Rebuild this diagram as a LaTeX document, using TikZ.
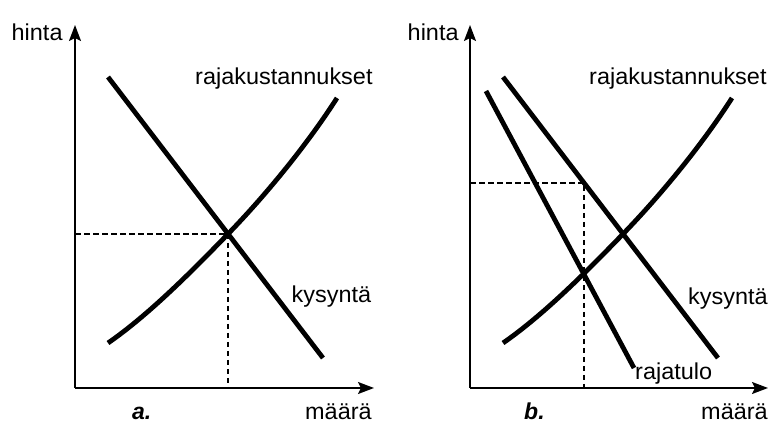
\documentclass[tikz,border=0pt]{standalone}
\usepackage{fontspec}
\setmainfont{Liberation Sans}
\usetikzlibrary{arrows.meta}
\tikzset{
  axisline/.style={line width=1.8pt, -{Stealth[length=16pt,width=12pt,inset=3pt]}},
  curveline/.style={line width=4.8pt},
  guide/.style={line width=1.4pt, dash pattern=on 5.5pt off 3.5pt},
  lbl/.style={inner sep=0pt, anchor=base west, xscale=1.02, font=\fontsize{23}{27}\selectfont},
  panellbl/.style={inner sep=0pt, anchor=base west, font=\fontsize{23}{27}\selectfont\bfseries\itshape}
}
\begin{document}
\begin{tikzpicture}[x=1pt,y=-1pt]
\useasboundingbox (0,0) rectangle (772,430);
\fill[white] (0,0) rectangle (772,430);

% ---------- panel a ----------
\coordinate (aO) at (75,388);
\coordinate (aY) at (75,25);
\coordinate (aX) at (374,388);
\coordinate (aE) at (228,234);
\coordinate (aEx) at (75,234);
\coordinate (aEq) at (228,388);
\coordinate (aD1) at (108,77);
\coordinate (aD2) at (323,358);
\coordinate (aS1) at (108,343);
\coordinate (aS2) at (337,98);

\draw[guide] (aEx) -- (aE) -- (aEq);
\draw[axisline] (aO) -- (aY);
\draw[axisline] (aO) -- (aX);
\draw[curveline] (aD1) -- (aD2);
\draw[curveline] (aS1) .. controls (150,314) and (195,268) .. (aE)
                      .. controls (262,199) and (305,148) .. (aS2);

\node[lbl] (ahinta) at (11.5,41) {hinta};
\node[lbl] (araja) at (195,85) {rajakustannukset};
\node[lbl] (akys) at (291.5,303) {kysyntä};
\node[panellbl] (alab) at (132,420) {a.};
\node[lbl] (amaara) at (305,420) {määrä};

% ---------- panel b ----------
\coordinate (bO) at (470,388);
\coordinate (bY) at (470,25);
\coordinate (bX) at (768,388);
\coordinate (bP) at (584,183);
\coordinate (bPx) at (470,183);
\coordinate (bPq) at (584,388);
\coordinate (bE) at (623,234);
\coordinate (bD1) at (503,77);
\coordinate (bD2) at (718,358);
\coordinate (bS1) at (503,343);
\coordinate (bS2) at (732,98);
\coordinate (bR1) at (486,91);
\coordinate (bR2) at (634,368);

\draw[guide] (bPx) -- (bP) -- (bPq);
\draw[axisline] (bO) -- (bY);
\draw[axisline] (bO) -- (bX);
\draw[curveline] (bD1) -- (bD2);
\draw[curveline] (bR1) -- (bR2);
\draw[curveline] (bS1) .. controls (545,314) and (590,268) .. (bE)
                      .. controls (657,199) and (700,148) .. (bS2);

\node[lbl] (bhinta) at (407.5,41) {hinta};
\node[lbl] (braja) at (589,85) {rajakustannukset};
\node[lbl] (bkys) at (688,305) {kysyntä};
\node[lbl] (brajatulo) at (635,380) {rajatulo};
\node[panellbl] (blab) at (524,420) {b.};
\node[lbl] (bmaara) at (701,420) {määrä};
\end{tikzpicture}
\end{document}
